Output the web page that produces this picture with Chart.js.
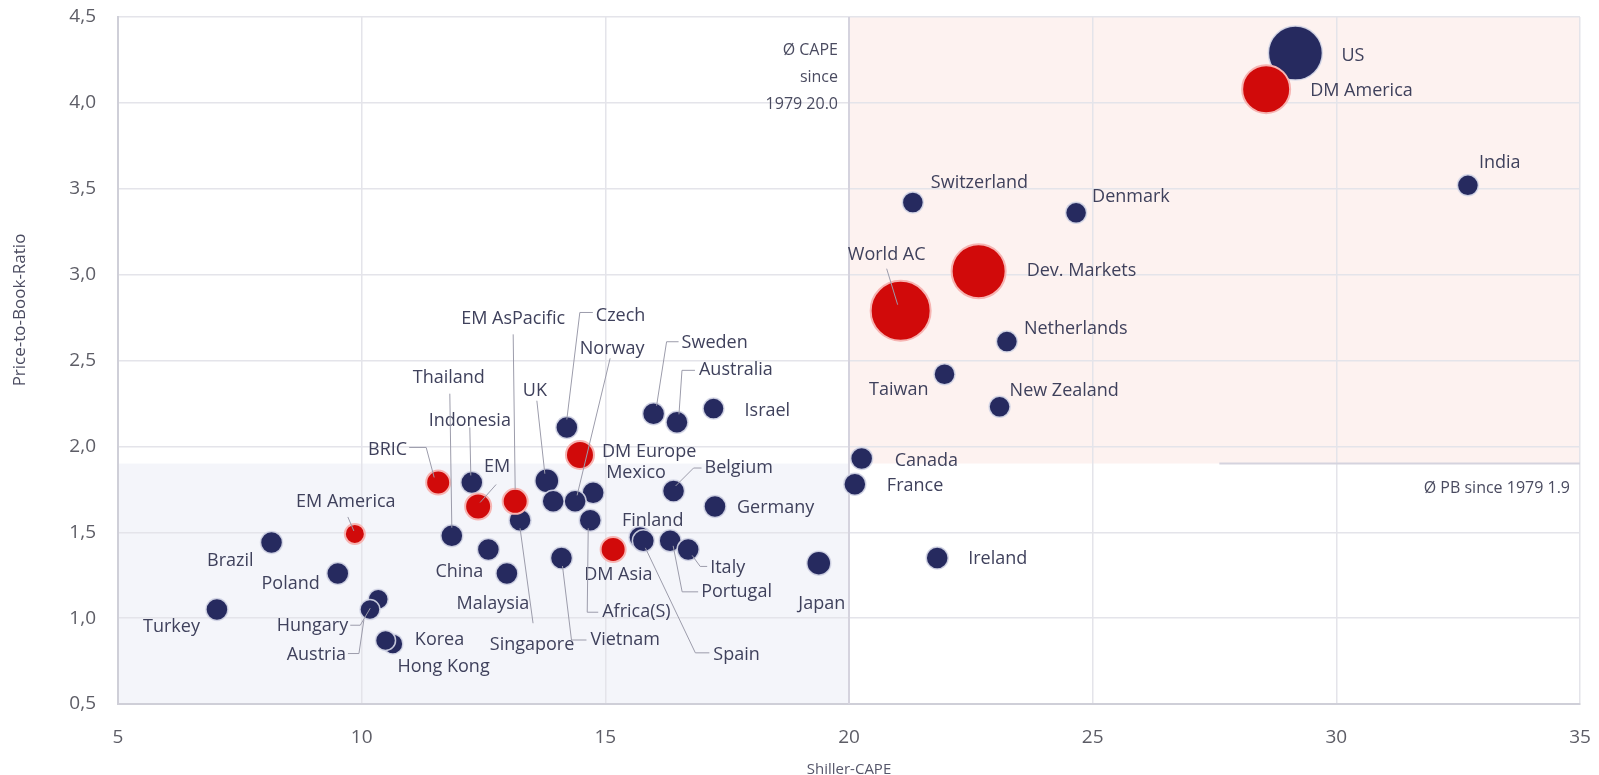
<!DOCTYPE html>
<html>
<head>
<meta charset="utf-8">
<title>Shiller-CAPE vs Price-to-Book</title>
<script src="https://cdn.jsdelivr.net/npm/chart.js@4.4.1/dist/chart.umd.min.js"></script>
<style>
  html, body { margin: 0; padding: 0; background: #fff; }
  .chart-container { position: relative; width: 1599px; height: 775px; }
</style>
</head>
<body>
<div class="chart-container">
  <canvas id="cape-chart"></canvas>
</div>
<script>
// country markets (navy)
const countryNames = ['US', 'India', 'Switzerland', 'Denmark', 'Netherlands', 'Taiwan', 'New Zealand', 'Israel',
  'Sweden', 'Australia', 'Czech', 'Canada', 'France', 'UK', 'Indonesia', 'Mexico', 'Norway', '', 'Africa(S)',
  'Singapore', 'Vietnam', 'Thailand', 'China', 'Malaysia', 'Finland', 'Spain', 'Portugal', 'Italy', 'Belgium',
  'Germany', 'Japan', 'Ireland', 'Brazil', 'Poland', 'Turkey', 'Hungary', 'Austria', 'Korea', 'Hong Kong'];
const countryCape = [29.16, 32.70, 21.31, 24.66, 23.24, 21.96, 23.09, 17.22, 15.99, 16.47, 14.21, 20.26, 20.12,
  13.80, 12.26, 14.75, 14.38, 13.93, 14.69, 13.25, 14.10, 11.85, 12.60, 12.98, 15.71, 15.78, 16.33, 16.70, 16.40,
  17.25, 19.38, 21.81, 8.15, 9.51, 7.03, 10.34, 10.17, 10.64, 10.49];
const countryPB = [4.29, 3.52, 3.42, 3.36, 2.61, 2.42, 2.23, 2.22, 2.19, 2.14, 2.11, 1.93, 1.78, 1.80, 1.79, 1.73,
  1.68, 1.68, 1.57, 1.57, 1.35, 1.48, 1.40, 1.26, 1.47, 1.45, 1.45, 1.40, 1.74, 1.65, 1.32, 1.35, 1.44, 1.26, 1.05,
  1.11, 1.05, 0.85, 0.87];
const countryR = [27, 10.5, 10.5, 10.5, 10.5, 10.5, 10.5, 10.5, 11, 11, 11, 11, 11, 12, 11, 11, 11, 11, 11, 11, 11,
  11, 11, 11, 11, 11, 11, 11, 11, 11, 12, 11, 11, 11, 11, 10, 10, 10, 10];

// regional / aggregate indices (red)
const indexNames = ['DM America', 'Dev. Markets', 'World AC', 'DM Europe', 'BRIC', 'EM', 'EM AsPacific', 'EM America', 'DM Asia'];
const indexCape = [28.56, 22.66, 21.06, 14.48, 11.57, 12.39, 13.15, 9.86, 15.16];
const indexPB = [4.08, 3.02, 2.79, 1.95, 1.79, 1.65, 1.68, 1.49, 1.40];
const indexR = [24, 27, 30, 14, 12, 13, 12.5, 10, 12.5];

const xTicks = [5, 10, 15, 20, 25, 30, 35];
const yTicks = [0.5, 1.0, 1.5, 2.0, 2.5, 3.0, 3.5, 4.0, 4.5];
const avgCape = 20.0;
const avgPB = 1.9;

// label offsets (px from the bubble centre), leader lines as offset polylines
const labelPos = {
  'US': { dx: 46, dy: 3 },
  'DM America': { dx: 44, dy: 2 },
  'India': { dx: 11, dy: -22 },
  'Switzerland': { dx: 18, dy: -20 },
  'Denmark': { dx: 16, dy: -16 },
  'World AC': { dx: -14, dy: -56, align: 'center', leader: [[-14, -42], [-3, -6]] },
  'Dev. Markets': { dx: 48, dy: 0 },
  'Netherlands': { dx: 17, dy: -13 },
  'Taiwan': { dx: -16, dy: 16, align: 'right' },
  'New Zealand': { dx: 10, dy: -16 },
  'Israel': { dx: 31, dy: 2 },
  'Canada': { dx: 33, dy: 2 },
  'France': { dx: 32, dy: 2 },
  'Belgium': { dx: 31, dy: -23, leader: [[2, -5], [20, -23], [28, -23]] },
  'Germany': { dx: 22, dy: 1 },
  'Italy': { dx: 22, dy: 18, leader: [[4, 6], [12, 17], [19, 17]] },
  'Portugal': { dx: 31, dy: 51, leader: [[3, 5], [12, 51], [28, 51]] },
  'Japan': { dx: 3, dy: 41, align: 'center' },
  'Ireland': { dx: 31, dy: 1 },
  'Spain': { dx: 70, dy: 114, leader: [[2, 7], [52, 112], [66, 112]] },
  'EM AsPacific': { dx: -2, dy: -182, align: 'center', leader: [[-2, -167], [0, -12]] },
  'Czech': { dx: 29, dy: -112, leader: [[0, -8], [13, -115], [26, -115]] },
  'Norway': { dx: 37, dy: -152, align: 'center', leader: [[35, -143], [2, -6]] },
  'Sweden': { dx: 28, dy: -71, leader: [[3, -8], [13, -72], [25, -72]] },
  'Australia': { dx: 22, dy: -52, leader: [[2, -8], [5, -52], [18, -52]] },
  'Thailand': { dx: -3, dy: -158, align: 'center', leader: [[-2, -142], [0, -8]] },
  'UK': { dx: -12, dy: -90, align: 'center', leader: [[-10, -80], [-2, -7]] },
  'Indonesia': { dx: -2, dy: -62, align: 'center', leader: [[-2, -55], [-1, -7]] },
  'BRIC': { dx: -31, dy: -33, align: 'right', leader: [[-29, -35], [-12, -35], [-4, -5]] },
  'EM': { dx: 19, dy: -40, align: 'center', leader: [[18, -22], [2, -4]] },
  'EM America': { dx: -9, dy: -32, align: 'center', leader: [[-7, -17], [-1, -3]] },
  'DM Europe': { dx: 22, dy: -3 },
  'Mexico': { dx: 13, dy: -20 },
  'Finland': { dx: -18, dy: -17 },
  'DM Asia': { dx: -29, dy: 25 },
  'China': { dx: -5, dy: 22, align: 'right' },
  'Malaysia': { dx: -14, dy: 30, align: 'center' },
  'Singapore': { dx: 12, dy: 125, align: 'center', leader: [[13, 103], [0, 8]] },
  'Vietnam': { dx: 29, dy: 82, leader: [[1, 8], [10, 82], [25, 82]] },
  'Africa(S)': { dx: 12, dy: 92, leader: [[8, 92], [-3, 92], [-2, 8]] },
  'Hungary': { dx: -30, dy: 27, align: 'right', leader: [[-28, 26], [-18, 26], [-8, 9]] },
  'Austria': { dx: -24, dy: 45, align: 'right', leader: [[-22, 44], [-11, 44], [-6, 10]] },
  'Korea': { dx: 22, dy: -4 },
  'Hong Kong': { dx: 58, dy: 26, align: 'center' },
  'Brazil': { dx: -18, dy: 18, align: 'right' },
  'Poland': { dx: -18, dy: 10, align: 'right' },
  'Turkey': { dx: -17, dy: 17, align: 'right' }
};

const toPoints = (xs, ys, rs) => xs.map((x, i) => ({ x: x, y: ys[i], r: rs[i] }));

const zonesPlugin = {
  id: 'zones',
  beforeDraw(chart) {
    const { ctx, scales: { x, y } } = chart;
    ctx.save();
    // above-average quadrant
    ctx.fillStyle = '#fdf2f0';
    ctx.fillRect(x.getPixelForValue(avgCape), y.getPixelForValue(4.5),
      x.getPixelForValue(35) - x.getPixelForValue(avgCape), y.getPixelForValue(avgPB) - y.getPixelForValue(4.5));
    // below-average quadrant
    ctx.fillStyle = '#f4f5fa';
    ctx.fillRect(x.getPixelForValue(5), y.getPixelForValue(avgPB),
      x.getPixelForValue(avgCape) - x.getPixelForValue(5), y.getPixelForValue(0.5) - y.getPixelForValue(avgPB));
    ctx.restore();
  },
  beforeDatasetsDraw(chart) {
    const { ctx, scales: { x, y } } = chart;
    ctx.save();
    ctx.strokeStyle = '#d5d3de';
    ctx.lineWidth = 2;
    ctx.beginPath();
    ctx.moveTo(x.getPixelForValue(avgCape), y.getPixelForValue(4.5));
    ctx.lineTo(x.getPixelForValue(avgCape), y.getPixelForValue(0.5));
    ctx.moveTo(x.getPixelForValue(27.6), y.getPixelForValue(avgPB));
    ctx.lineTo(x.getPixelForValue(35), y.getPixelForValue(avgPB));
    ctx.stroke();

    ctx.fillStyle = '#4a4b60';
    ctx.font = '16px "Open Sans"';
    ctx.textAlign = 'right';
    ctx.textBaseline = 'middle';
    const cx = x.getPixelForValue(avgCape) - 11;
    ctx.fillText('Ø CAPE', cx, 50);
    ctx.fillText('since', cx, 77);
    ctx.fillText('1979 20.0', cx, 104);
    ctx.fillText('Ø PB since 1979 1.9', x.getPixelForValue(35) - 10, y.getPixelForValue(avgPB) + 25);

    // y axis title
    ctx.translate(20, 310);
    ctx.rotate(-Math.PI / 2);
    ctx.textAlign = 'center';
    ctx.font = '17px "Open Sans"';
    ctx.fillText('Price-to-Book-Ratio', 0, 0);
    ctx.restore();
  }
};

const labelPlugin = {
  id: 'pointLabels',
  afterDatasetsDraw(chart) {
    const ctx = chart.ctx;
    ctx.save();
    ctx.font = '18px "Open Sans"';
    ctx.textBaseline = 'middle';
    chart.data.datasets.forEach((ds, di) => {
      const meta = chart.getDatasetMeta(di);
      meta.data.forEach((el, i) => {
        const name = ds.names[i];
        const lp = labelPos[name];
        if (!name || !lp) return;
        if (lp.leader) {
          ctx.strokeStyle = '#9c9cab';
          ctx.lineWidth = 1;
          ctx.beginPath();
          lp.leader.forEach(([lx, ly], k) => {
            if (k === 0) ctx.moveTo(el.x + lx, el.y + ly);
            else ctx.lineTo(el.x + lx, el.y + ly);
          });
          ctx.stroke();
        }
        ctx.fillStyle = '#3f415c';
        ctx.textAlign = lp.align || 'left';
        ctx.fillText(name, el.x + lp.dx, el.y + lp.dy);
      });
    });
    ctx.restore();
  }
};

const ctx = document.getElementById('cape-chart');
new Chart(ctx, {
  type: 'bubble',
  data: {
    datasets: [
      {
        label: 'Indices',
        names: indexNames,
        data: toPoints(indexCape, indexPB, indexR),
        backgroundColor: '#d10a0a',
        borderColor: '#f6b4b2',
        borderWidth: 2,
        order: 0
      },
      {
        label: 'Countries',
        names: countryNames,
        data: toPoints(countryCape, countryPB, countryR),
        backgroundColor: '#262a5f',
        borderColor: 'rgba(214,216,232,0.9)',
        borderWidth: 1.5,
        order: 1
      }
    ]
  },
  options: {
    responsive: true,
    maintainAspectRatio: false,
    devicePixelRatio: 1,
    animation: false,
    events: [],
    layout: { autoPadding: false, padding: { top: 17, right: 19, left: 0, bottom: 0 } },
    plugins: {
      legend: { display: false },
      tooltip: { enabled: false }
    },
    scales: {
      x: {
        type: 'linear',
        min: 5,
        max: 35,
        afterBuildTicks: (scale) => { scale.ticks = xTicks.map(v => ({ value: v })); },
        afterFit: (scale) => {
          scale.height = 71;
          scale.paddingLeft = 0;
          scale.paddingRight = 0;
        },
        ticks: {
          font: { family: 'Open Sans', size: 19 },
          color: '#5d5d66',
          padding: 22
        },
        grid: { color: '#e4e4ea', lineWidth: 1.5, drawTicks: false },
        border: { color: '#cfcfd8', width: 2 },
        title: {
          display: true,
          text: 'Shiller-CAPE',
          font: { family: 'Open Sans', size: 15 },
          color: '#55566a',
          padding: { top: 0, bottom: -4 }
        }
      },
      y: {
        type: 'linear',
        min: 0.5,
        max: 4.5,
        afterBuildTicks: (scale) => { scale.ticks = yTicks.map(v => ({ value: v })); },
        afterFit: (scale) => {
          scale.width = 118;
          scale.paddingTop = 0;
          scale.paddingBottom = 0;
        },
        ticks: {
          font: { family: 'Open Sans', size: 19 },
          color: '#5d5d66',
          padding: 22,
          callback: (v) => Number(v).toFixed(1).replace('.', ',')
        },
        grid: { color: '#e4e4ea', lineWidth: 1.5, drawTicks: false },
        border: { color: '#cfcfd8', width: 2 }
      }
    }
  },
  plugins: [zonesPlugin, labelPlugin]
});
</script>
</body>
</html>
